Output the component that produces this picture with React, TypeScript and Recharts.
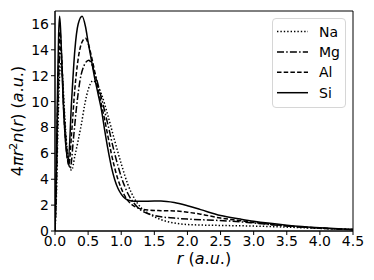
import { Line, LineChart, ReferenceArea, XAxis, YAxis } from 'recharts';

const X_TICKS = [0, 0.5, 1, 1.5, 2, 2.5, 3, 3.5, 4, 4.5];
const Y_TICKS = [0, 2, 4, 6, 8, 10, 12, 14, 16];

// [r, 4πr²n(r)]
const NA: [number, number][] = [
  [0, 0], [0.02, 2.5], [0.04, 7], [0.06, 10.8], [0.075, 12.5], [0.09, 13], [0.11, 12.3],
  [0.14, 9.5], [0.18, 6.5], [0.25, 4.7], [0.3, 5.8], [0.35, 7], [0.4, 8.3], [0.45, 9.8],
  [0.5, 10.9], [0.575, 11.6], [0.65, 11.2], [0.7, 10.6], [0.8, 8.9], [0.9, 7], [1, 5.2],
  [1.1, 3.6], [1.2, 2.5], [1.3, 1.8], [1.4, 1.4], [1.5, 1.1], [1.6, 0.88], [1.8, 0.62],
  [2, 0.5], [2.5, 0.43], [3, 0.38], [3.5, 0.3], [4, 0.2], [4.5, 0.12],
];
const MG: [number, number][] = [
  [0, 0], [0.02, 3.2], [0.04, 8.5], [0.06, 12.5], [0.08, 14.2], [0.1, 13.2], [0.13, 10],
  [0.17, 6.8], [0.23, 4.85], [0.28, 7.2], [0.33, 9.8], [0.38, 11.7], [0.44, 12.8],
  [0.51, 13.2], [0.6, 12.2], [0.7, 10.3], [0.8, 8.2], [0.9, 6], [1, 4.2], [1.1, 2.9],
  [1.2, 2.1], [1.3, 1.6], [1.4, 1.35], [1.5, 1.2], [1.6, 1.1], [1.8, 1], [2, 0.92],
  [2.3, 0.85], [2.6, 0.78], [3, 0.62], [3.5, 0.38], [4, 0.22], [4.5, 0.11],
];
const AL: [number, number][] = [
  [0, 0], [0.02, 4], [0.04, 10], [0.06, 14], [0.075, 15.4], [0.1, 13.5], [0.13, 9.5],
  [0.16, 7], [0.21, 5.1], [0.25, 7.5], [0.3, 11], [0.35, 13.3], [0.4, 14.5], [0.46, 14.9],
  [0.5, 14.5], [0.55, 13.5], [0.6, 12.3], [0.65, 11], [0.7, 9.8], [0.75, 8.6], [0.8, 7.3],
  [0.85, 6], [0.9, 4.9], [0.95, 4], [1, 3.3], [1.05, 2.75], [1.1, 2.35], [1.2, 1.9],
  [1.3, 1.7], [1.4, 1.62], [1.6, 1.57], [1.8, 1.55], [2, 1.45], [2.2, 1.3], [2.5, 1],
  [2.8, 0.8], [3, 0.66], [3.5, 0.4], [4, 0.22], [4.5, 0.11],
];
const SI: [number, number][] = [
  [0, 0], [0.02, 5], [0.04, 11.5], [0.055, 15.2], [0.07, 16.6], [0.085, 15.5], [0.1, 13.5],
  [0.12, 10.5], [0.15, 7.5], [0.2, 5.4], [0.25, 10], [0.3, 14], [0.35, 16], [0.41, 16.6],
  [0.46, 15.8], [0.5, 14.6], [0.55, 13.2], [0.6, 11.8], [0.65, 10.6], [0.7, 9.4],
  [0.75, 7.8], [0.8, 6.3], [0.85, 5], [0.9, 4], [0.95, 3.3], [1, 2.85], [1.05, 2.55],
  [1.1, 2.4], [1.2, 2.3], [1.4, 2.3], [1.6, 2.32], [1.8, 2.2], [2, 1.95], [2.2, 1.65],
  [2.5, 1.2], [2.8, 0.92], [3, 0.75], [3.5, 0.45], [4, 0.25], [4.5, 0.12],
];

const SERIES = [
  { name: 'Na', points: NA, dash: '1.4 2' },
  { name: 'Mg', points: MG, dash: '7 2.2 1.5 2.2' },
  { name: 'Al', points: AL, dash: '4.5 2.2' },
  { name: 'Si', points: SI, dash: undefined as string | undefined },
];

const FONT = '"DejaVu Sans", sans-serif';

const toRows = (pts: [number, number][]) => pts.map(([r, v]) => ({ r, v }));

function XLabel({ viewBox }: any) {
  const cx = viewBox.x + viewBox.width / 2;
  return (
    <text x={cx} y={viewBox.y + 33} textAnchor="middle" fontSize={16} fontFamily={FONT} fill="#000">
      <tspan fontStyle="italic">r</tspan> (<tspan fontStyle="italic">a</tspan>.<tspan fontStyle="italic">u</tspan>.)
    </text>
  );
}

function YLabel({ viewBox }: any) {
  const x = viewBox.x + 23;
  const y = viewBox.y + viewBox.height / 2;
  return (
    <text x={x} y={y} transform={`rotate(-90, ${x}, ${y})`} textAnchor="middle" fontSize={16} fontFamily={FONT} fill="#000">
      4<tspan fontStyle="italic">πr</tspan>
      <tspan dy={-6} fontSize={11}>2</tspan>
      <tspan dy={6} fontStyle="italic">n</tspan>(<tspan fontStyle="italic">r</tspan>) (<tspan fontStyle="italic">a</tspan>.<tspan fontStyle="italic">u</tspan>.)
    </text>
  );
}

function LegendBox() {
  return (
    <div
      style={{
        position: 'absolute', left: 272, top: 18, width: 74, height: 90, boxSizing: 'border-box',
        border: '1px solid #d6d6d6', borderRadius: 4, background: 'rgba(255,255,255,0.85)',
      }}
    >
      <svg width={74} height={90} style={{ position: 'absolute', left: -1, top: -1 }}>
        {SERIES.map((s, i) => {
          const y = 13.5 + i * 20.4;
          return (
            <g key={s.name}>
              <line x1={5} x2={36} y1={y} y2={y} stroke="#000" strokeWidth={1.5} strokeDasharray={s.dash} />
              <text x={47} y={y + 5} fontSize={14} fontFamily={FONT} fill="#000">{s.name}</text>
            </g>
          );
        })}
      </svg>
    </div>
  );
}

export default function App() {
  return (
    <div style={{ position: 'absolute', left: 0, top: 0, width: 374, height: 280, background: '#fff' }}>
      <LineChart width={374} height={280} margin={{ top: 11, right: 21, bottom: 0, left: 0 }}>
        <XAxis
          dataKey="r"
          type="number"
          domain={[0, 4.5]}
          ticks={X_TICKS}
          allowDataOverflow
          height={49}
          tickFormatter={(v: number) => v.toFixed(1)}
          tick={{ fontSize: 14, fill: '#000', fontFamily: FONT }}
          tickSize={4}
          tickMargin={1}
          stroke="#000"
          label={<XLabel />}
        />
        <YAxis
          type="number"
          domain={[0, 17]}
          ticks={Y_TICKS}
          allowDataOverflow
          width={55}
          tick={{ fontSize: 14, fill: '#000', fontFamily: FONT }}
          tickSize={4}
          tickMargin={2}
          stroke="#000"
          label={<YLabel />}
        />
        {SERIES.map((s) => (
          <Line
            key={s.name}
            name={s.name}
            data={toRows(s.points)}
            dataKey="v"
            type="monotone"
            stroke="#000"
            strokeWidth={1.5}
            strokeDasharray={s.dash}
            dot={false}
            isAnimationActive={false}
          />
        ))}
        <ReferenceArea x1={0} x2={4.5} y1={0} y2={17} fill="none" stroke="#000" strokeWidth={1} ifOverflow="visible" />
      </LineChart>
      <LegendBox />
    </div>
  );
}
